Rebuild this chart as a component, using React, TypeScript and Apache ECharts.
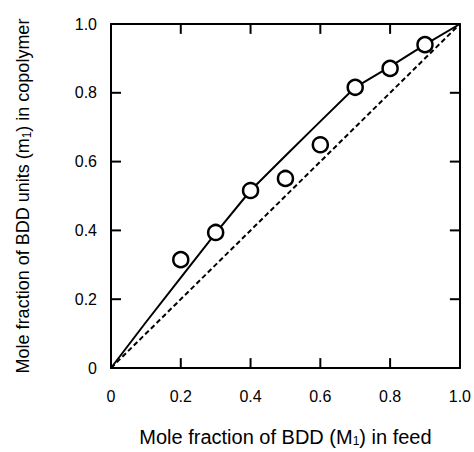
import React, { useEffect, useRef } from "react";
import * as echarts from "echarts";

const feedFraction = [0.2, 0.3, 0.4, 0.5, 0.6, 0.7, 0.8, 0.9];
const copolymerFraction = [0.315, 0.394, 0.516, 0.551, 0.649, 0.816, 0.871, 0.94];

const curveX = [0, 0.1, 0.2, 0.3, 0.4, 0.5, 0.6, 0.7, 0.8, 0.9, 1.0];
const curveY = [0, 0.133, 0.263, 0.392, 0.516, 0.617, 0.717, 0.816, 0.876, 0.94, 1.0];

const diagX = [0, 1];
const diagY = [0, 1];

const tickLabels = ["0", "0.2", "0.4", "0.6", "0.8", "1.0"];
const innerTicks = [0.2, 0.4, 0.6, 0.8];

const FONT = "'Liberation Sans', Arial, Helvetica, sans-serif";

function makeAxis(position: string, extra: any) {
  return {
    type: "value",
    position,
    min: 0,
    max: 1,
    interval: 0.2,
    splitLine: { show: false },
    axisLine: { show: true, onZero: false, lineStyle: { color: "#000", width: 2 } },
    axisTick: { show: false },
    ...extra,
  };
}

export default function App() {
  const ref = useRef<HTMLDivElement>(null);
  useEffect(() => {
    if (!ref.current) return;
    const chart = echarts.init(ref.current, null, { renderer: "svg" });
    const fmt = (v: number) => tickLabels[Math.round(v / 0.2)] ?? "";
    const subStyle = { fontFamily: FONT, fontSize: 12, color: "#000", padding: [8, 0, 0, 0] };
    // tick length expressed in axis units (plot is ~349 px per unit)
    const TLu = 10 / 349;
    const tickSeries: any[] = [];
    innerTicks.forEach((v) => {
      const segs = [
        [[v, 0], [v, TLu]],
        [[v, 1], [v, 1 - TLu]],
        [[0, v], [TLu, v]],
        [[1, v], [1 - TLu, v]],
      ];
      segs.forEach((seg) =>
        tickSeries.push({
          type: "line",
          data: seg,
          silent: true,
          showSymbol: false,
          symbol: "none",
          lineStyle: { color: "#000", width: 2 },
          z: 2,
        })
      );
    });
    chart.setOption({
      animation: false,
      grid: { left: 111, right: 13, top: 24, bottom: 79 },
      xAxis: [
        makeAxis("bottom", {
          name: "Mole fraction of BDD (M{sub|1}) in feed",
          nameLocation: "middle",
          nameGap: 59,
          nameTextStyle: { fontFamily: FONT, fontSize: 20, color: "#000", rich: { sub: subStyle } },
          axisLabel: { fontFamily: FONT, fontSize: 16, color: "#000", margin: 20, formatter: fmt },
        }),
        makeAxis("top", { axisLabel: { show: false } }),
      ],
      yAxis: [
        makeAxis("left", {
          name: "Mole fraction of BDD units (m{sub|1}) in copolymer",
          nameLocation: "middle",
          nameGap: 78,
          nameTextStyle: { fontFamily: FONT, fontSize: 18, color: "#000", rich: { sub: subStyle } },
          axisLabel: { fontFamily: FONT, fontSize: 16, color: "#000", margin: 14, formatter: fmt },
        }),
        makeAxis("right", { axisLabel: { show: false } }),
      ],
      series: [
        ...tickSeries,
        {
          type: "line",
          data: diagX.map((x, i) => [x, diagY[i]]),
          showSymbol: false,
          symbol: "none",
          lineStyle: { color: "#000", width: 2, type: [5, 3] },
          z: 2,
        },
        {
          type: "line",
          data: curveX.map((x, i) => [x, curveY[i]]),
          showSymbol: false,
          symbol: "none",
          lineStyle: { color: "#000", width: 2 },
          z: 3,
        },
        {
          type: "scatter",
          data: feedFraction.map((x, i) => [x, copolymerFraction[i]]),
          symbol: "circle",
          symbolSize: 15,
          itemStyle: { color: "#fff", borderColor: "#000", borderWidth: 2.5, opacity: 1 },
          z: 4,
        },
      ],
    });
    return () => chart.dispose();
  }, []);
  return <div ref={ref} style={{ width: 474, height: 452, position: "absolute", left: 0, top: 0 }} />;
}
